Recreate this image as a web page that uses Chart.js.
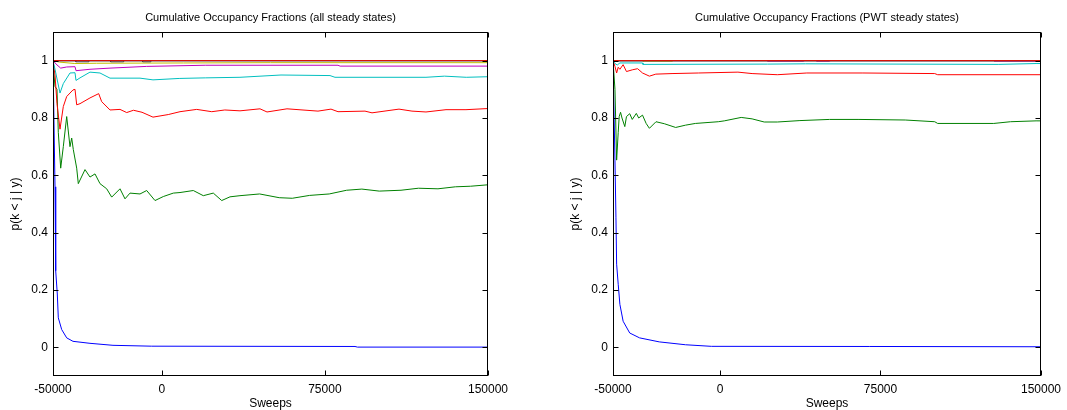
<!DOCTYPE html>
<html>
<head>
<meta charset="utf-8">
<script src="https://cdn.jsdelivr.net/npm/chart.js@4"></script>
<style>
  html, body { margin: 0; padding: 0; background: #fff; }
  body { width: 1067px; height: 410px; position: relative; overflow: hidden; }
  .panel { position: absolute; top: 0; height: 410px; }
</style>
</head>
<body>
<div class="panel" style="left:0;width:533px"><canvas id="chartAll"></canvas></div>
<div class="panel" style="left:560px;width:507px"><canvas id="chartPwt"></canvas></div>
<script>
// sweep index runs 0..200000, first 50000 are burn-in (labelled negative)
const burnIn = 50000;
const xTicks = [0, 50000, 125000, 200000];
const yTicks = [0, 0.2, 0.4, 0.6, 0.8, 1];

// MATLAB-ish colour order, cycles after 7
const lineColors = ['#0000ff', '#008000', '#ff0000', '#00bfbf', '#bf00bf', '#bfbf00', '#404040', '#0000ff', '#008000', '#ff0000'];

// ---- left panel: all steady states ----
const allK2 = [[0,1],[920,0.56],[1241,0.267],[1977,0.186],[2437,0.103],[4000,0.062],[6299,0.033],[9195,0.021],[17011,0.014],[27586,0.007],[45379,0.004],[138851,0.003],[140000,0.0008],[200000,0.0008]];
const allK3 = [[0,1],[460,0.95],[920,0.91],[1839,0.9],[2437,0.75],[3540,0.625],[4736,0.7],[6299,0.805],[7816,0.70],[8598,0.73],[9333,0.69],[10897,0.625],[11632,0.571],[14713,0.62],[17011,0.594],[19310,0.605],[21609,0.571],[24690,0.553],[26989,0.524],[30805,0.553],[33103,0.518],[35402,0.538],[40000,0.535],[43080,0.547],[46897,0.512],[50713,0.526],[55310,0.538],[58391,0.54],[64506,0.547],[69103,0.529],[73701,0.538],[77563,0.512],[81379,0.525],[85977,0.529],[95000,0.535],[104000,0.522],[110000,0.52],[118000,0.53],[127000,0.535],[135000,0.548],[142000,0.552],[150000,0.545],[160000,0.548],[168000,0.555],[177000,0.553],[185000,0.56],[192000,0.562],[200000,0.567]];
const allK4 = [[0,1],[920,0.95],[1839,0.85],[3218,0.761],[4736,0.84],[6299,0.875],[9195,0.898],[10115,0.9],[10897,0.846],[12414,0.85],[17011,0.87],[21000,0.885],[22391,0.857],[26207,0.828],[30805,0.83],[33885,0.819],[37000,0.827],[40920,0.82],[45977,0.803],[53000,0.812],[58391,0.822],[66069,0.83],[73000,0.822],[79000,0.828],[85977,0.825],[95172,0.832],[98391,0.821],[107586,0.832],[121839,0.824],[127816,0.831],[131034,0.822],[143448,0.824],[146667,0.818],[159080,0.831],[165057,0.824],[171494,0.821],[180690,0.829],[189885,0.829],[200000,0.833]];
const allK5 = [[0,1],[920,0.97],[3218,0.887],[4736,0.92],[7816,0.957],[10115,0.958],[10575,0.931],[12414,0.94],[17011,0.96],[21609,0.957],[26207,0.939],[40000,0.939],[45977,0.933],[58000,0.938],[70000,0.94],[85977,0.942],[104828,0.95],[127356,0.948],[129655,0.942],[171494,0.942],[180000,0.946],[190000,0.942],[200000,0.944]];
const allK6 = [[0,1],[1839,0.985],[3540,0.974],[6299,0.978],[10115,0.979],[10575,0.965],[17011,0.97],[26207,0.974],[43080,0.98],[70000,0.984],[131034,0.984],[132000,0.981],[200000,0.981]];
const allK7 = [[0,1],[3000,0.995],[10000,0.99],[20000,0.991],[60000,0.992],[100000,0.993],[200000,0.993]];
const allK8 = [[0,1],[10115,1],[10500,0.996],[16092,0.996],[16500,1],[26207,1],[26500,0.996],[32184,0.996],[32500,1],[40920,1],[41200,0.996],[44598,0.996],[45000,1],[200000,1]];
const allK9 = [[0,1],[200000,1]];
const allK10 = [[0,1],[200000,1]];
const allK11 = [[0,1],[200000,1]];

// ---- right panel: PWT steady states ----
const pwtK2 = [[0,1],[920,0.653],[1379,0.454],[1701,0.29],[2437,0.22],[3218,0.15],[4736,0.091],[7816,0.05],[12414,0.033],[21609,0.019],[33885,0.009],[45977,0.0035],[120000,0.003],[200000,0.002]];
const pwtK3 = [[0,1],[920,0.9],[1701,0.653],[2437,0.75],[2897,0.805],[3540,0.82],[4200,0.8],[5517,0.77],[6299,0.805],[7816,0.815],[9000,0.795],[10897,0.816],[12000,0.8],[13793,0.81],[15494,0.781],[17011,0.764],[20092,0.787],[24000,0.78],[29287,0.767],[33885,0.775],[38483,0.781],[49195,0.787],[52000,0.79],[59908,0.802],[65000,0.797],[70667,0.786],[76782,0.786],[87356,0.791],[101149,0.795],[114943,0.795],[136552,0.793],[150345,0.787],[151724,0.781],[177931,0.781],[185747,0.787],[197701,0.79],[200000,0.79]];
const pwtK4 = [[0,1],[920,0.98],[1701,0.957],[2437,0.977],[3218,0.97],[4736,0.986],[6299,0.962],[9000,0.968],[11494,0.972],[13793,0.957],[17011,0.946],[20000,0.953],[27586,0.955],[40000,0.957],[58391,0.96],[65000,0.955],[76782,0.951],[90575,0.957],[116782,0.957],[150345,0.955],[151724,0.951],[200000,0.951]];
const pwtK5 = [[0,1],[920,0.99],[2000,0.985],[3218,0.992],[13793,0.992],[14000,0.987],[72184,0.988],[90000,0.989],[180000,0.987],[197701,0.99],[200000,0.99]];
const pwtK6 = [[0,1],[72184,1],[72300,0.998],[89000,0.998],[89200,1],[95000,1],[95200,0.998],[101149,0.998],[101300,1],[177931,1],[178100,0.998],[200000,0.998]];
const pwtK7 = [[0,1],[13793,1],[14000,0.998],[27586,0.998],[27800,1],[200000,1]];
const pwtK8 = [[0,1],[200000,1]];
const pwtK9 = [[0,1],[200000,1]];
const pwtK10 = [[0,1],[200000,1]];
const pwtK11 = [[0,1],[200000,1]];

const FONT = 'Arial, "Liberation Sans", sans-serif';
const FS = 12;

const boxPlugin = {
    id: 'box',
    afterDatasetsDraw(chart) {
        const { ctx, chartArea: a, scales: { x, y } } = chart;
        const l = Math.round(a.left) + 0.5, r = Math.round(a.right) - 0.5;
        const t = Math.round(a.top) + 0.5, b = Math.round(a.bottom) - 0.5;
        ctx.save();
        ctx.strokeStyle = '#000';
        ctx.lineWidth = 1;
        ctx.strokeRect(l, t, r - l, b - t);
        ctx.beginPath();
        x.ticks.forEach(tk => {
            const px = Math.round(x.getPixelForValue(tk.value)) + 0.5;
            ctx.moveTo(px, b); ctx.lineTo(px, b - 5);
            ctx.moveTo(px, t); ctx.lineTo(px, t + 5);
        });
        y.ticks.forEach(tk => {
            const py = Math.round(y.getPixelForValue(tk.value)) + 0.5;
            ctx.moveTo(l, py); ctx.lineTo(l + 5, py);
            ctx.moveTo(r, py); ctx.lineTo(r - 5, py);
        });
        ctx.stroke();
        ctx.restore();
    }
};

const makeChart = (id, title, series, rightPad) => {
    const ctx = document.getElementById(id);
    if (!ctx) return;

    new Chart(ctx, {
        type: 'line',
        data: {
            datasets: series.map((s, i) => ({
                data: s.map(p => ({ x: p[0], y: p[1] })),
                borderColor: lineColors[i],
                borderWidth: 1,
                pointRadius: 0,
                tension: 0,
                fill: false,
                order: -i
            }))
        },
        options: {
            responsive: true,
            maintainAspectRatio: false,
            animation: false,
            layout: { padding: { left: 0, right: rightPad, top: 0, bottom: 0 } },
            plugins: {
                legend: { display: false },
                tooltip: { enabled: false },
                title: {
                    display: true,
                    text: title,
                    fullSize: false,
                    color: '#000',
                    font: { family: FONT, size: 11, weight: 'normal' },
                    padding: { top: 11.4, bottom: 7.4 }
                }
            },
            scales: {
                x: {
                    type: 'linear',
                    min: 0,
                    max: 200000,
                    grid: { display: false, drawTicks: false },
                    border: { display: false },
                    afterBuildTicks: sc => { sc.ticks = xTicks.map(v => ({ value: v })); },
                    afterFit: sc => { sc.height = 34; },
                    ticks: {
                        autoSkip: false,
                        maxRotation: 0,
                        padding: 6,
                        color: '#000',
                        font: { family: FONT, size: FS },
                        callback: v => String(v - burnIn)
                    },
                    title: {
                        display: true,
                        text: 'Sweeps',
                        color: '#000',
                        font: { family: FONT, size: FS },
                        padding: { top: 0, bottom: -1 }
                    }
                },
                y: {
                    min: -0.1,
                    max: 1.1,
                    grid: { display: false, drawTicks: false },
                    border: { display: false },
                    afterBuildTicks: sc => { sc.ticks = yTicks.map(v => ({ value: v })); },
                    afterFit: sc => { sc.width = 53; },
                    ticks: {
                        autoSkip: false,
                        padding: 5,
                        color: '#000',
                        font: { family: FONT, size: FS },
                        callback: v => String(v)
                    },
                    title: {
                        display: true,
                        text: 'p(k < j | y)',
                        color: '#000',
                        font: { family: FONT, size: FS },
                        padding: { top: 8.8, bottom: 0 }
                    }
                }
            }
        },
        plugins: [boxPlugin]
    });
};

makeChart('chartAll', 'Cumulative Occupancy Fractions (all steady states)',
    [allK2, allK3, allK4, allK5, allK6, allK7, allK8, allK9, allK10, allK11], 45);
makeChart('chartPwt', 'Cumulative Occupancy Fractions (PWT steady states)',
    [pwtK2, pwtK3, pwtK4, pwtK5, pwtK6, pwtK7, pwtK8, pwtK9, pwtK10, pwtK11], 19);
</script>
</body>
</html>
